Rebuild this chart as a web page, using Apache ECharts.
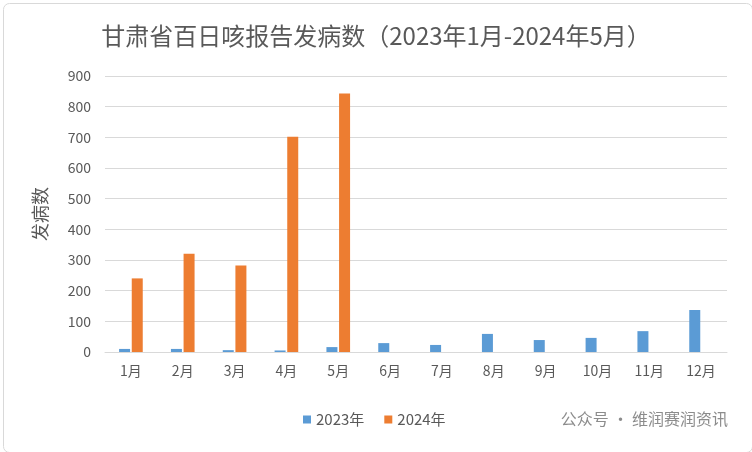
<!DOCTYPE html>
<html><head><meta charset="utf-8">
<script src="https://cdn.jsdelivr.net/npm/echarts@6/dist/echarts.min.js"></script>
<style>html,body{margin:0;padding:0;background:#fff}#c{width:752px;height:452px}</style>
</head><body><div id="c"></div>
<script>
const categories = ['1月','2月','3月','4月','5月','6月','7月','8月','9月','10月','11月','12月'];
const s2023 = [10, 10, 6, 5, 16, 29, 23, 59, 39, 46, 68, 137];
const s2024 = [240, 320, 282, 702, 843, null, null, null, null, null, null, null];
const yTicks = {min: 0, max: 900, interval: 100};
const font = '"Noto Sans CJK SC", "Liberation Sans", sans-serif';
const chart = echarts.init(document.getElementById('c'));
chart.setOption({
  animation: false,
  title: {text: '甘肃省百日咳报告发病数（2023年1月-2024年5月）', left: 'center', top: 19,
    textStyle: {fontFamily: font, fontSize: 24, fontWeight: 'normal', color: '#595959'}},
  grid: {left: 105, right: 25, top: 76, bottom: 100},
  legend: {bottom: 20, left: 298, itemWidth: 8, itemHeight: 8, itemGap: 20,
    textStyle: {fontFamily: font, fontSize: 15, color: '#595959'},
    data: [{name: '2023年', icon: 'rect'}, {name: '2024年', icon: 'rect'}]},
  xAxis: {type: 'category', data: categories,
    axisLine: {lineStyle: {color: '#d9d9d9'}}, axisTick: {show: false},
    axisLabel: {fontFamily: font, fontSize: 14, color: '#595959', margin: 12}},
  yAxis: {type: 'value', min: yTicks.min, max: yTicks.max, interval: yTicks.interval,
    name: '发病数', nameLocation: 'middle', nameGap: 56, nameRotate: 90,
    nameTextStyle: {fontFamily: font, fontSize: 18, color: '#595959'},
    axisLabel: {fontFamily: font, fontSize: 14, color: '#595959', margin: 14},
    splitLine: {lineStyle: {color: '#d9d9d9'}}},
  series: [
    {name: '2023年', type: 'bar', data: s2023, barWidth: 11, barGap: '15%', itemStyle: {color: '#5B9BD5'}},
    {name: '2024年', type: 'bar', data: s2024, barWidth: 11, itemStyle: {color: '#ED7D31'}}
  ],
  graphic: [
    {type: 'rect', left: 1, top: 1, shape: {width: 749, height: 449, r: 6},
      style: {fill: 'none', stroke: '#d9d9d9', lineWidth: 1}, silent: true},
    {type: 'text', right: 24, top: 411,
      style: {text: '公众号 · 维润赛润资讯', font: '16px ' + font, fill: '#8c8c8c'}}]
});
</script></body></html>
